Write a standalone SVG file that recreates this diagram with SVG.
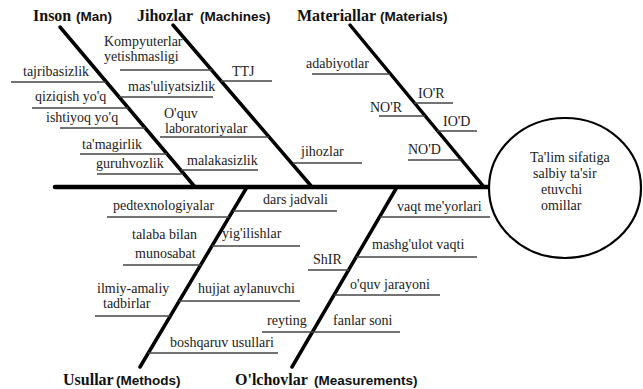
<svg xmlns="http://www.w3.org/2000/svg" width="643" height="389" viewBox="0 0 643 389">
<style>
.t{font-family:"Liberation Serif","Times New Roman",serif;font-size:14px;fill:#222}
.h{font-family:"Liberation Serif","Times New Roman",serif;font-size:16px;font-weight:bold;fill:#111}
.s{font-family:"Liberation Sans",Arial,sans-serif;font-size:13.5px;font-weight:bold;fill:#111}
.u{stroke:#444;stroke-width:1.6;fill:none}
.b{stroke:#000;stroke-width:3.5;fill:none;stroke-linecap:round}
</style>
<rect width="643" height="389" fill="#fff"/>
<g id="connectors">
<line class="b" x1="55" y1="187" x2="490" y2="187" style="stroke-width:4.5"/>
<line class="b" x1="60" y1="27" x2="195" y2="187"/>
<line class="b" x1="173" y1="25" x2="312" y2="187"/>
<line class="b" x1="350" y1="25" x2="484" y2="187"/>
<line class="b" x1="247" y1="187" x2="140" y2="367"/>
<line class="b" x1="397" y1="187" x2="292" y2="367"/>
</g>
<g id="effect">
<ellipse cx="565" cy="188" rx="76" ry="70" fill="#fff" stroke="#000" stroke-width="2.2"/>
<text class="t" x="530" y="162">Ta'lim sifatiga</text>
<text class="t" x="533" y="178">salbiy ta'sir</text>
<text class="t" x="541" y="194">etuvchi</text>
<text class="t" x="541" y="210">omillar</text>
</g>
<g id="cat-man"><text x="33" y="21"><tspan class="h">Inson</tspan><tspan class="s" x="76">(Man)</tspan></text></g>
<g id="cat-machines"><text x="137" y="21"><tspan class="h">Jihozlar</tspan><tspan class="s" x="200">(Machines)</tspan></text></g>
<g id="cat-materials"><text x="297" y="21"><tspan class="h">Materiallar</tspan><tspan class="s" x="380">(Materials)</tspan></text></g>
<g id="cat-methods"><text x="63" y="385"><tspan class="h">Usullar</tspan><tspan class="s" x="116">(Methods)</tspan></text></g>
<g id="cat-measurements"><text x="235" y="385"><tspan class="h">O'lchovlar</tspan><tspan class="s" x="314">(Measurements)</tspan></text></g>

<g id="c-tajribasizlik"><text class="t" x="23" y="76">tajribasizlik</text><line class="u" x1="11" y1="82" x2="106" y2="82"/></g>
<g id="c-qiziqish"><text class="t" x="35" y="101">qiziqish yo'q</text><line class="u" x1="32" y1="108" x2="128" y2="108"/></g>
<g id="c-ishtiyoq"><text class="t" x="46" y="122">ishtiyoq yo'q</text><line class="u" x1="60" y1="128" x2="145" y2="128"/></g>
<g id="c-tamagirlik"><text class="t" x="82" y="149">ta'magirlik</text><line class="u" x1="80" y1="154" x2="167" y2="154"/></g>
<g id="c-guruhvozlik"><text class="t" x="96" y="168">guruhvozlik</text><line class="u" x1="97" y1="174" x2="183" y2="174"/></g>

<g id="c-kompyuterlar"><text class="t" x="104" y="46">Kompyuterlar</text><text class="t" x="104" y="61">yetishmasligi</text><line class="u" x1="120" y1="70" x2="212" y2="70"/></g>
<g id="c-ttj"><text class="t" x="232" y="76">TTJ</text><line class="u" x1="221" y1="81" x2="272" y2="81"/></g>
<g id="c-masuliyatsizlik"><text class="t" x="128" y="91">mas'uliyatsizlik</text><line class="u" x1="119" y1="97" x2="213" y2="97"/></g>
<g id="c-laboratoriyalar"><text class="t" x="164" y="118">O'quv</text><text class="t" x="165" y="133">laboratoriyalar</text><line class="u" x1="160" y1="137" x2="269" y2="137"/></g>
<g id="c-malakasizlik"><text class="t" x="187" y="165">malakasizlik</text><line class="u" x1="181" y1="170" x2="258" y2="170"/></g>
<g id="c-jihozlar"><text class="t" x="301" y="156">jihozlar</text><line class="u" x1="293" y1="163" x2="362" y2="163"/></g>

<g id="c-adabiyotlar"><text class="t" x="306" y="68">adabiyotlar</text><line class="u" x1="312" y1="74" x2="390" y2="74"/></g>
<g id="c-ior"><text class="t" x="418" y="98">IO'R</text><line class="u" x1="414" y1="103" x2="453" y2="103"/></g>
<g id="c-nor"><text class="t" x="370" y="112">NO'R</text><line class="u" x1="379" y1="116" x2="425" y2="116"/></g>
<g id="c-iod"><text class="t" x="443" y="126">IO'D</text><line class="u" x1="437" y1="131" x2="477" y2="131"/></g>
<g id="c-nod"><text class="t" x="408" y="154">NO'D</text><line class="u" x1="408" y1="160" x2="461" y2="160"/></g>

<g id="c-pedtexnologiyalar"><text class="t" x="113" y="210">pedtexnologiyalar</text><line class="u" x1="107" y1="217" x2="229" y2="217"/></g>
<g id="c-talaba"><text class="t" x="132" y="239">talaba bilan</text><text class="t" x="135" y="258">munosabat</text><line class="u" x1="123" y1="265" x2="201" y2="265"/></g>
<g id="c-ilmiy"><text class="t" x="97" y="293">ilmiy-amaliy</text><text class="t" x="103" y="308">tadbirlar</text><line class="u" x1="95" y1="316" x2="170" y2="316"/></g>
<g id="c-dars"><text class="t" x="263" y="204">dars jadvali</text><line class="u" x1="233" y1="211" x2="337" y2="211"/></g>
<g id="c-yigilishlar"><text class="t" x="222" y="238">yig'ilishlar</text><line class="u" x1="212" y1="246" x2="300" y2="246"/></g>
<g id="c-hujjat"><text class="t" x="198" y="293">hujjat aylanuvchi</text><line class="u" x1="179" y1="301" x2="300" y2="301"/></g>
<g id="c-boshqaruv"><text class="t" x="170" y="347">boshqaruv usullari</text><line class="u" x1="148" y1="353" x2="278" y2="353"/></g>

<g id="c-reyting"><text class="t" x="267" y="325">reyting</text><line class="u" x1="262" y1="332" x2="312" y2="332"/></g>
<g id="c-fanlar"><text class="t" x="333" y="325">fanlar soni</text><line class="u" x1="312" y1="332" x2="400" y2="332"/></g>
<g id="c-vaqt"><text class="t" x="397" y="211">vaqt me'yorlari</text><line class="u" x1="380" y1="217" x2="490" y2="217"/></g>
<g id="c-mashgulot"><text class="t" x="372" y="249">mashg'ulot vaqti</text><line class="u" x1="356" y1="257" x2="477" y2="257"/></g>
<g id="c-shir"><text class="t" x="313" y="264">ShIR</text><line class="u" x1="308" y1="270" x2="349" y2="270"/></g>
<g id="c-oquv"><text class="t" x="350" y="289">o'quv jarayoni</text><line class="u" x1="334" y1="295" x2="440" y2="295"/></g>
</svg>
